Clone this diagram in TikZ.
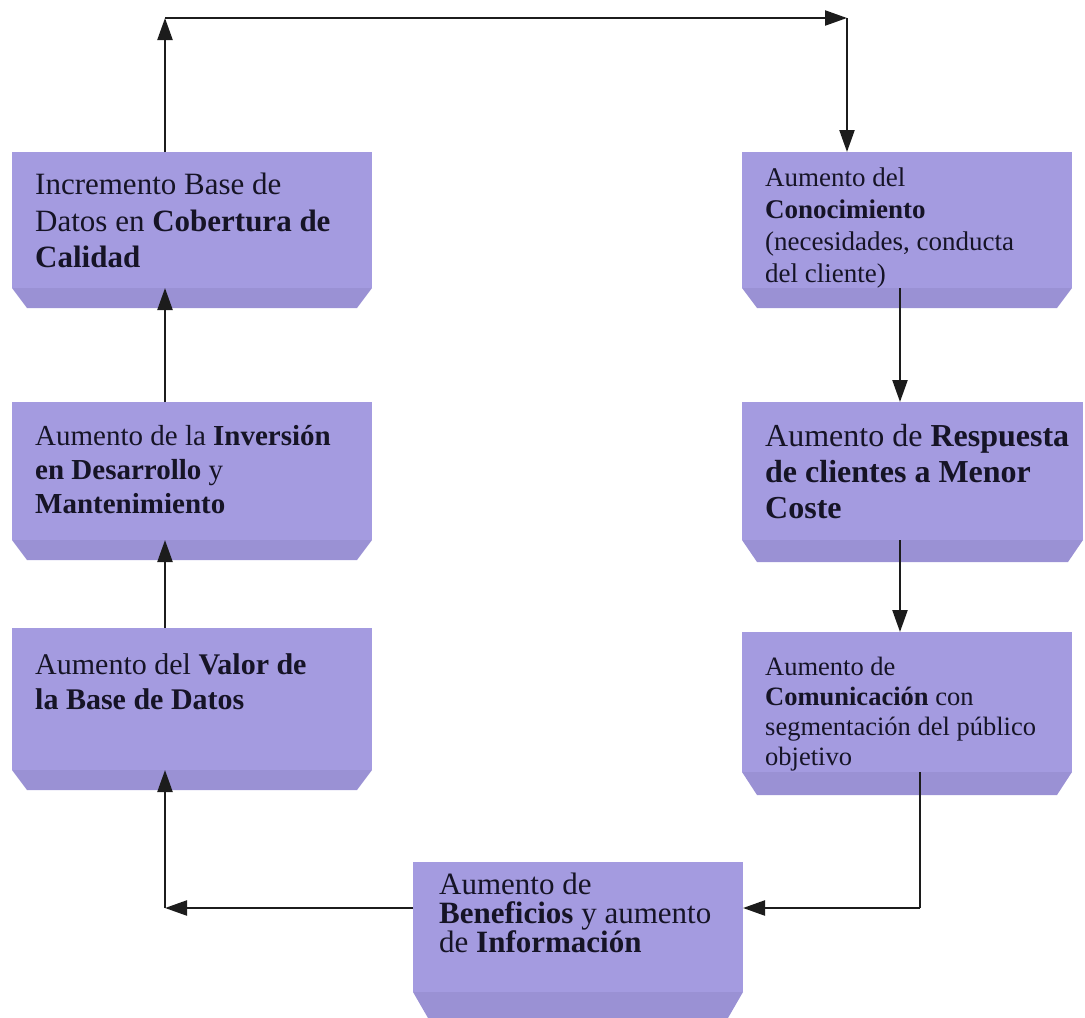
\documentclass[tikz,border=0pt]{standalone}
\usepackage{fontspec}
\setmainfont{Liberation Serif}
\usetikzlibrary{arrows.meta,calc}

\definecolor{faceviolet}{RGB}{164,155,224}
\definecolor{bandviolet}{RGB}{154,145,212}
\definecolor{inkline}{RGB}{28,28,28}
\definecolor{inktext}{RGB}{22,20,38}

\tikzset{
  face/.style={fill=faceviolet, draw=none, inner sep=0pt, outer sep=0pt, anchor=north west},
  boxtext/.style={anchor=north west, align=left, inner sep=0pt, text=inktext},
  flow/.style={draw=inkline, line width=2.3pt, -{Triangle[length=22pt,width=15pt]}},
  plain/.style={draw=inkline, line width=2.3pt},
}

% chamfered depth band under a face node
\newcommand\depthband[2]{%
  \fill[bandviolet] (#1.south west) -- ++(15,#2) -- ($(#1.south east)+(-15,#2)$) -- (#1.south east) -- cycle;}

\begin{document}
\begin{tikzpicture}[x=1pt,y=-1pt]
\useasboundingbox (0,0) rectangle (1085,1018);

% ---- left column
\node[face, minimum width=360pt, minimum height=136pt] (f1) at (12,152) {};
\depthband{f1}{20}
\node[boxtext, font=\fontsize{31}{36.5}\selectfont] (t1) at ([xshift=23pt,yshift=-21pt]f1.north west)
  {Incremento Base de\\Datos en \textbf{Cobertura de}\\\textbf{Calidad}};

\node[face, minimum width=360pt, minimum height=138pt] (f2) at (12,402) {};
\depthband{f2}{20}
\node[boxtext, font=\fontsize{29}{34}\selectfont] (t2) at ([xshift=23pt,yshift=-23pt]f2.north west)
  {Aumento de la \textbf{Inversión}\\\textbf{en Desarrollo} y\\\textbf{Mantenimiento}};

\node[face, minimum width=360pt, minimum height=142pt] (f3) at (12,628) {};
\depthband{f3}{20}
\node[boxtext, font=\fontsize{30}{35}\selectfont] (t3) at ([xshift=23pt,yshift=-25pt]f3.north west)
  {Aumento del \textbf{Valor de}\\\textbf{la Base de Datos}};

% ---- right column
\node[face, minimum width=330pt, minimum height=136pt] (f4) at (742,152) {};
\depthband{f4}{20}
\node[boxtext, font=\fontsize{27}{32}\selectfont] (t4) at ([xshift=23pt,yshift=-16pt]f4.north west)
  {Aumento del\\\textbf{Conocimiento}\\(necesidades, conducta\\del cliente)};

\node[face, minimum width=341pt, minimum height=138pt] (f5) at (742,402) {};
\depthband{f5}{22}
\node[boxtext, font=\fontsize{32}{36}\selectfont] (t5) at ([xshift=23pt,yshift=-22pt]f5.north west)
  {Aumento de \textbf{Respuesta}\\\textbf{de clientes a Menor}\\\textbf{Coste}};

\node[face, minimum width=330pt, minimum height=140pt] (f6) at (742,632) {};
\depthband{f6}{23}
\node[boxtext, font=\fontsize{26.5}{30}\selectfont] (t6) at ([xshift=23pt,yshift=-25pt]f6.north west)
  {Aumento de\\\textbf{Comunicación} con\\segmentación del público\\objetivo};

% ---- bottom
\node[face, minimum width=330pt, minimum height=130pt] (f7) at (413,862) {};
\depthband{f7}{26}
\node[boxtext, font=\fontsize{31}{29}\selectfont] (t7) at ([xshift=26pt,yshift=-11pt]f7.north west)
  {Aumento de\\\textbf{Beneficios} y aumento\\de \textbf{Información}};

% ---- routing points
\coordinate (tl) at (165,18);
\coordinate (tr) at (847,18);
\coordinate (rdrop) at (920,908);
\coordinate (bl) at (165,908);

% ---- connectors
\draw[flow] (f1.north -| tl) -- (tl);
\draw[flow] (tl) -- (tr);
\draw[flow] (tr) -- (f4.north -| tr);
\draw[flow] (f4.south -| 900,0) -- (f5.north -| 900,0);
\draw[flow] (f5.south -| 900,0) -- (f6.north -| 900,0);
\draw[plain] (f6.south -| rdrop) -- (rdrop);
\draw[flow] (rdrop) -- (f7.east |- rdrop);
\draw[flow] (f7.west |- bl) -- (bl);
\draw[flow] (bl) -- (f3.south -| bl);
\draw[flow] (f3.north -| bl) -- (f2.south -| bl);
\draw[flow] (f2.north -| bl) -- (f1.south -| bl);
\end{tikzpicture}
\end{document}
